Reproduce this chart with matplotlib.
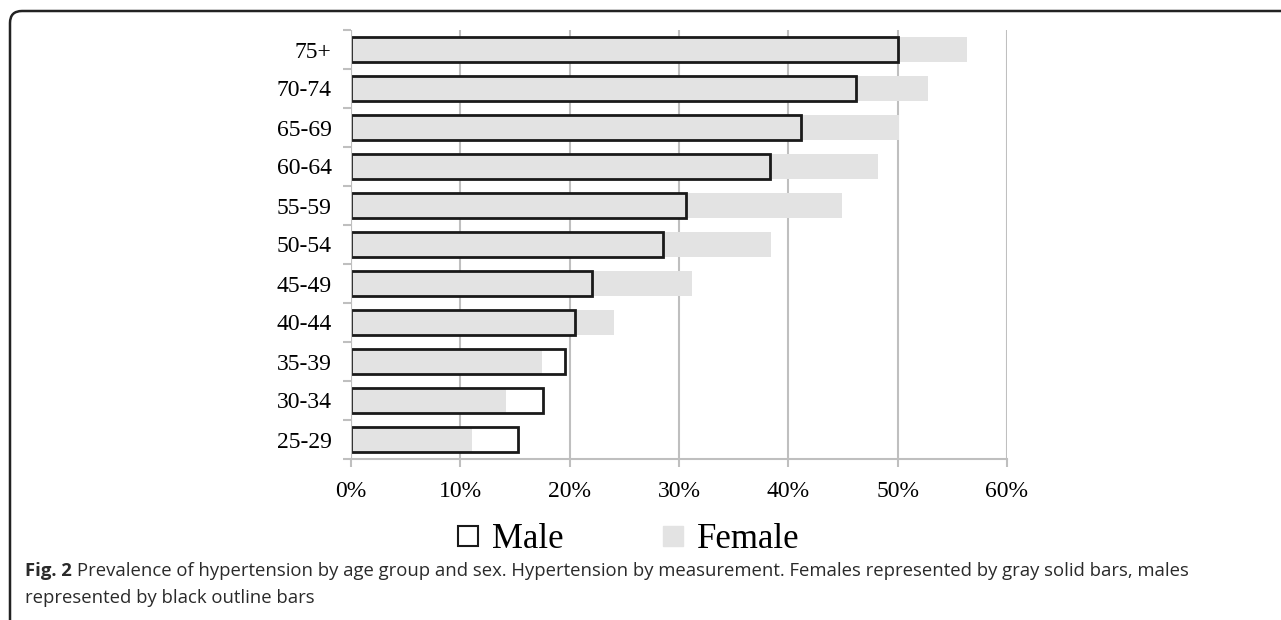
import matplotlib

matplotlib.use("Agg")
import matplotlib.pyplot as plt
from matplotlib.lines import Line2D
from matplotlib.path import Path
from matplotlib.patches import PathPatch
from matplotlib.ticker import FixedLocator, PercentFormatter

# age groups, bottom to top
age_groups = ["25-29", "30-34", "35-39", "40-44", "45-49", "50-54",
              "55-59", "60-64", "65-69", "70-74", "75+"]
male_pct = [15.3, 17.6, 19.6, 20.5, 22.0, 28.5, 30.6, 38.3, 41.2, 46.2, 50.0]
female_pct = [11.1, 14.2, 17.5, 24.1, 31.2, 38.4, 44.9, 48.2, 50.1, 52.8, 56.3]
x_ticks = [0, 10, 20, 30, 40, 50, 60]

W, H = 1281, 620
SERIF = "Liberation Serif"
FEMALE_GRAY = "#e3e3e3"
GRID_GRAY = "#bfbfbf"

fig = plt.figure(figsize=(W / 100, H / 100), dpi=100)
ax = fig.add_axes([351 / W, 1 - 459 / H, (1007 - 351) / W, (459 - 30) / H])

ypos = list(range(len(age_groups)))
ax.barh(ypos, female_pct, height=0.62, color=FEMALE_GRAY, zorder=2)
ax.barh(ypos, male_pct, height=0.62, facecolor="none", edgecolor="#1a1a1a",
        linewidth=2.0, zorder=3)

ax.set_xlim(0, 60)
ax.set_ylim(-0.5, len(age_groups) - 0.5)
ax.xaxis.set_major_locator(FixedLocator(x_ticks))
ax.xaxis.set_major_formatter(PercentFormatter(decimals=0))
ax.set_yticks(ypos)
ax.set_yticklabels(age_groups)
ax.yaxis.set_minor_locator(FixedLocator([p - 0.5 for p in ypos] + [ypos[-1] + 0.5]))

ax.grid(axis="x", color=GRID_GRAY, linewidth=1.5, zorder=1)
ax.set_axisbelow(True)
for side in ("top", "right", "left"):
    ax.spines[side].set_visible(False)
ax.spines["bottom"].set_color(GRID_GRAY)
ax.spines["bottom"].set_linewidth(1.5)
ax.axvline(0, color=GRID_GRAY, linewidth=1.5, zorder=4)

ax.tick_params(axis="x", which="major", length=6, width=1.5, color=GRID_GRAY,
               pad=10, labelsize=17)
ax.tick_params(axis="y", which="major", length=0, pad=14, labelsize=17)
ax.tick_params(axis="y", which="minor", length=6, width=1.5, color=GRID_GRAY)
for lbl in ax.get_xticklabels() + ax.get_yticklabels():
    lbl.set_fontfamily(SERIF)

handles = [
    Line2D([], [], linestyle="none", marker="s", markersize=14.5,
           markerfacecolor="white", markeredgecolor="#1a1a1a", markeredgewidth=1.5),
    Line2D([], [], linestyle="none", marker="s", markersize=14.5,
           markerfacecolor=FEMALE_GRAY, markeredgecolor=FEMALE_GRAY),
]
fig.legend(handles, ["Male", "Female"], loc="center", ncol=2, frameon=False,
           bbox_to_anchor=(627 / W, 1 - 540 / H), prop={"family": SERIF, "size": 25},
           handlelength=0.8, handletextpad=0.3, columnspacing=2.75)

# frame with a rounded top-left corner
x0, y0, r = 10 / W, 1 - 11 / H, 12
verts = [(x0, 0), (x0, y0 - r / H), (x0, y0), (x0 + r / W, y0), (1.01, y0)]
codes = [Path.MOVETO, Path.LINETO, Path.CURVE3, Path.CURVE3, Path.LINETO]
fig.add_artist(PathPatch(Path(verts, codes), transform=fig.transFigure,
                         facecolor="none", edgecolor="#222222", linewidth=1.8))

cap_kw = dict(family="Open Sans", size=13.3, color="#2a2a2a")
t1 = fig.text(25 / W, 1 - 580 / H, "Fig. 2", weight="bold", va="bottom", **cap_kw)
ax.annotate("Prevalence of hypertension by age group and sex. Hypertension by measurement. "
            "Females represented by gray solid bars, males",
            xy=(1, 0), xycoords=t1, xytext=(4, 0), textcoords="offset points",
            va="bottom", annotation_clip=False, **cap_kw)
fig.text(25 / W, 1 - 607 / H, "represented by black outline bars", va="bottom", **cap_kw)

fig.savefig("out.png", dpi=100)
